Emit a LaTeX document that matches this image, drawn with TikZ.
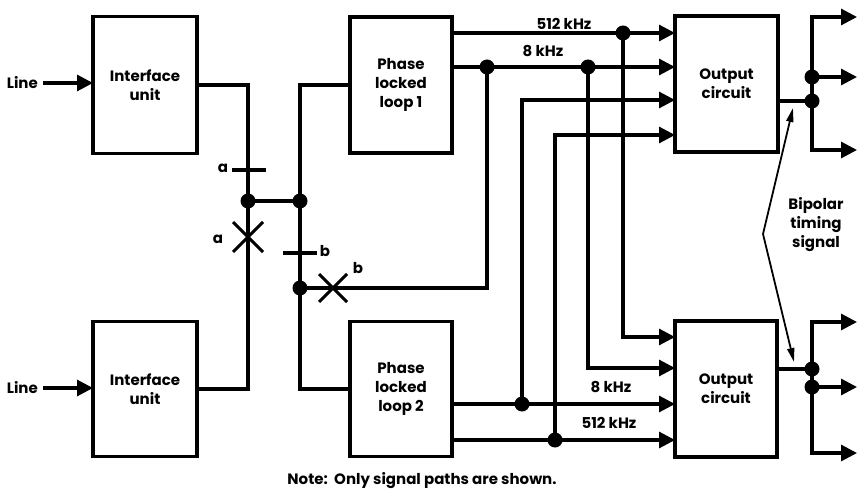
\documentclass[tikz,border=0pt]{standalone}
\usepackage{fontspec}
\setmainfont{Poppins}
\usetikzlibrary{arrows.meta}
\begin{document}
\begin{tikzpicture}[x=1pt,y=-1pt,
  lbl/.style={font=\fontsize{15}{19}\selectfont\bfseries, inner sep=0pt},
  blk/.style={draw, line width=3.1pt, inner sep=0pt, outer sep=0pt, align=center,
              font=\fontsize{15}{19}\selectfont\bfseries},
  wire/.style={line width=3.1pt, line join=miter},
  arr/.style={wire, -{Triangle[length=16pt,width=16pt]}},
  thinarr/.style={line width=1.8pt, -{Triangle[length=14pt,width=7pt]}},
  dot/.style={fill=black}]
\useasboundingbox (0,0) rectangle (858,494);

% blocks
\node[blk, minimum width=104pt, minimum height=137pt] (iu1) at (145,85) {Interface\\unit};
\node[blk, minimum width=104pt, minimum height=135pt] (iu2) at (145,389) {Interface\\unit};
\node[blk, minimum width=102pt, minimum height=136pt] (pll1) at (401,85) {Phase\\locked\\loop 1};
\node[blk, minimum width=102pt, minimum height=135pt] (pll2) at (401,389) {Phase\\locked\\loop 2};
\node[blk, minimum width=103pt, minimum height=136pt] (oc1) at (726.5,84) {Output\\circuit};
\node[blk, minimum width=102pt, minimum height=136pt] (oc2) at (726,389) {Output\\circuit};

% inputs
\node[lbl, anchor=east] (line1) at (38,83) {Line};
\node[lbl, anchor=east] (line2) at (38,388) {Line};
\draw[arr] ([xshift=5pt]line1.east) -- (iu1.west |- line1.east);
\draw[arr] ([xshift=5pt]line2.east) -- (iu2.west |- line2.east);

% junction coordinates
\coordinate (ja1) at (248,201);
\coordinate (jb1) at (300,201);
\coordinate (jb2) at (300,288);
\coordinate (k8a) at (487,67);
\coordinate (k8b) at (588,67);
\coordinate (k512) at (623,33);
\coordinate (m8) at (522,404);
\coordinate (m512) at (555,440);
\coordinate (c3) at (522,100);
\coordinate (c4) at (555,135);
\coordinate (d1) at (623,337);
\coordinate (d2) at (588,368);

% left wiring
\draw[wire] (iu1.east) -- (iu1.east -| ja1) -- (iu2.east -| ja1) -- (iu2.east);
\draw[wire] (ja1) -- (jb1);
\draw[wire] (pll1.west) -- (pll1.west -| jb1) -- (pll2.west -| jb1) -- (pll2.west);
\draw[wire] (jb2) -- (jb2 -| k8a) -- (k8a);

% ticks and crosses
\coordinate (ta) at (249,170);
\coordinate (xa) at (248,237);
\coordinate (tb) at (300,253);
\coordinate (xb) at (333,288);
\draw[wire] (ta) +(-17,0) -- +(17,0);
\draw[wire] (tb) +(-17,0) -- +(17,0);
\draw[wire] (xa) +(-15,-15) -- +(15,15) (xa) +(-15,15) -- +(15,-15);
\draw[wire] (xb) +(-14,-14) -- +(14,14) (xb) +(-14,14) -- +(14,-14);
\node[lbl] (la1) at (223,168) {a};
\node[lbl] (la2) at (218,239) {a};
\node[lbl] (lb1) at (325,251) {b};
\node[lbl] (lb2) at (358,268) {b};

% PLL outputs
\draw[arr] (pll1.east |- k512) -- (oc1.west |- k512);
\draw[arr] (pll1.east |- k8a) -- (oc1.west |- k8a);
\draw[arr] (m8) -- (c3) -- (oc1.west |- c3);
\draw[arr] (m512) -- (c4) -- (oc1.west |- c4);
\draw[arr] (k512) -- (d1) -- (oc2.west |- d1);
\draw[arr] (k8b) -- (d2) -- (oc2.west |- d2);
\draw[arr] (pll2.east |- m8) -- (oc2.west |- m8);
\draw[arr] (pll2.east |- m512) -- (oc2.west |- m512);

\node[lbl] (f512a) at (564,24) {512 kHz};
\node[lbl] (f8a) at (543,51) {8 kHz};
\node[lbl] (f8b) at (611,387) {8 kHz};
\node[lbl] (f512b) at (609,423) {512 kHz};

% outputs of output circuits
\coordinate (o1) at (812,101);
\coordinate (o1b) at (812,77);
\coordinate (o1t) at (812,17);
\coordinate (o1d) at (812,150);
\coordinate (o2) at (812,369);
\coordinate (o2b) at (812,387);
\coordinate (o2t) at (812,322);
\coordinate (o2d) at (812,453);
\draw[wire] (oc1.east |- o1) -- (o1);
\draw[wire] (oc2.east |- o2) -- (o2);
\draw[arr] (o1b) -- (o1t) -- ++(45,0);
\draw[arr] (o1b) -- (o1d) -- ++(45,0);
\draw[arr] (o1b) -- ++(45,0);
\draw[arr] (o2b) -- (o2t) -- ++(45,0);
\draw[arr] (o2b) -- (o2d) -- ++(45,0);
\draw[arr] (o2b) -- ++(45,0);

% dots
\foreach \p in {ja1,jb1,jb2,k8a,k8b,k512,m8,m512,o1,o1b,o2,o2b}
  \fill[dot] (\p) circle (7.5);

% bipolar timing signal
\node[lbl, align=center] (bts) at (816,225) {Bipolar\\timing\\signal};
\coordinate (bend) at (763,234);
\coordinate (tipa) at (793,108);
\coordinate (tipb) at (794,362);
\draw[thinarr] (bend) -- (tipa);
\draw[thinarr] (bend) -- (tipb);

% note
\node[lbl] (note) at (422,481) {Note:\ \ Only signal paths are shown.};
\end{tikzpicture}
\end{document}
